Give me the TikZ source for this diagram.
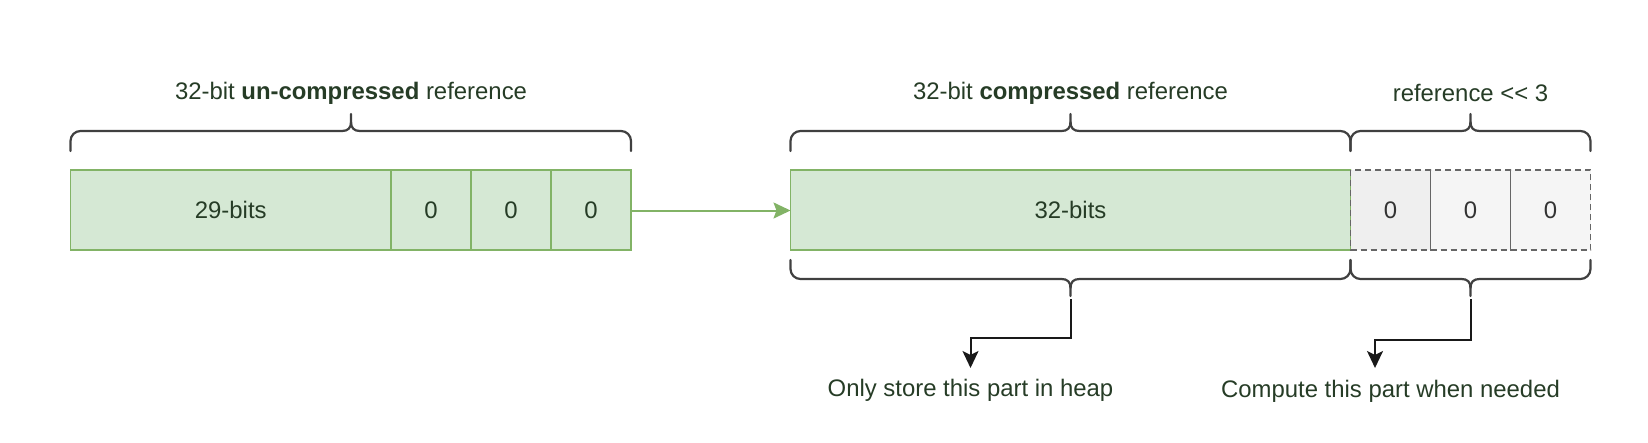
\documentclass[tikz,border=0pt]{standalone}
\usepackage{fontspec}
\setmainfont{Liberation Sans}
\usetikzlibrary{arrows.meta,calc}
\definecolor{gfill}{HTML}{D5E8D4}
\definecolor{gline}{HTML}{82B366}
\definecolor{kfill}{HTML}{F5F5F5}
\definecolor{kfillb}{HTML}{EFEFEF}
\definecolor{kline}{HTML}{666666}
\definecolor{gtext}{HTML}{263C26}
\definecolor{ktext}{HTML}{333333}
\definecolor{bcol}{HTML}{404040}
\newcommand\topbrace[3]{%
  \draw[brace] (#1,151) -- (#1,141) .. controls (#1,135.5) and (#1+4.5,131) .. (#1+10,131)
     -- (#2-9,131) .. controls (#2-3,131) and (#2,128) .. (#2,122) -- (#2,114);
  \draw[brace] (#3,151) -- (#3,141) .. controls (#3,135.5) and (#3-4.5,131) .. (#3-10,131)
     -- (#2+9,131) .. controls (#2+3,131) and (#2,128) .. (#2,122);
}
\newcommand\botbrace[3]{%
  \draw[brace] (#1,260) -- (#1,269) .. controls (#1,274.5) and (#1+4.5,279) .. (#1+10,279)
     -- (#2-9,279) .. controls (#2-3,279) and (#2,282) .. (#2,288) -- (#2,296);
  \draw[brace] (#3,260) -- (#3,269) .. controls (#3,274.5) and (#3-4.5,279) .. (#3-10,279)
     -- (#2+9,279) .. controls (#2+3,279) and (#2,282) .. (#2,288);
}
\begin{document}
\begin{tikzpicture}[x=1pt,y=-1pt,
  every node/.style={font=\fontsize{23.9}{28}\selectfont, inner sep=0pt},
  gcell/.style={draw=gline, fill=gfill, line width=1.6pt, text=gtext},
  kcell/.style={draw=kline, fill=kfill, line width=1.5pt, dash pattern=on 6pt off 4pt, text=ktext},
  brace/.style={draw=bcol, line width=2.2pt, line cap=round},
  lbl/.style={text=gtext},
  garrow/.style={draw=gline, line width=2pt, -{Stealth[length=17pt,width=16pt,inset=3pt]}},
  karrow/.style={draw=black!90, line width=2pt, -{Stealth[length=17pt,width=16pt,inset=4pt]}}]
\useasboundingbox (0,0) rectangle (1648,442);
% left (uncompressed) reference
\draw[gcell] (70.5,170) rectangle (631,250);
\node[lbl] (c29) at (230.75,210) {29-bits};
\draw[gline, line width=1.6pt] (391,170) -- (391,250) (471,170) -- (471,250) (551,170) -- (551,250);
\node[lbl] (z1) at (431,210) {0};
\node[lbl] (z2) at (511,210) {0};
\node[lbl] (z3) at (591,210) {0};
\coordinate (leftE) at (631,210.5);
% compressed reference
\draw[gcell] (790.5,170) rectangle (1350.5,250);
\node[lbl] (c32) at (1070.5,210) {32-bits};
\coordinate (compW) at (790.5,210.5);
% dashed cells
\draw[kcell, fill=kfillb] (1350.5,170) rectangle (1430.5,250);
\draw[kcell] (1430.5,170) rectangle (1510.5,250);
\draw[kcell] (1510.5,170) rectangle (1590.5,250);
\node[text=ktext] (d1) at (1390.5,210) {0};
\node[text=ktext] (d2) at (1470.5,210) {0};
\node[text=ktext] (d3) at (1550.5,210) {0};
% arrow between
\draw[garrow] (leftE) -- (compW);
% braces
\topbrace{70.5}{351}{631}
\topbrace{790.5}{1070.5}{1350.5}
\topbrace{1350.5}{1470.5}{1590.5}
\botbrace{790.5}{1070.5}{1350.5}
\botbrace{1350.5}{1470.5}{1590.5}
% titles
\node[lbl] (t1) at (351,93) {32-bit \textbf{un-compressed} reference};
\node[lbl] (t2) at (1070.5,93) {32-bit \textbf{compressed} reference};
\node[lbl] (t3) at (1470.5,93) {reference <\kern0pt< 3};
% bottom labels
\node[lbl] (heap) at (970.5,390) {Only store this part in heap};
\node[lbl] (comp) at (1390.5,391) {Compute this part when needed};
\coordinate (tipA) at (1070.5,299);
\coordinate (tipB) at (1470.5,299);
\coordinate (endA) at (970.5,368);
\coordinate (endB) at (1375,368);
\draw[karrow] (tipA) |- ($(endA)+(0,-30)$) -- (endA);
\draw[karrow] (tipB) |- ($(endB)+(0,-28)$) -- (endB);
\end{tikzpicture}
\end{document}
